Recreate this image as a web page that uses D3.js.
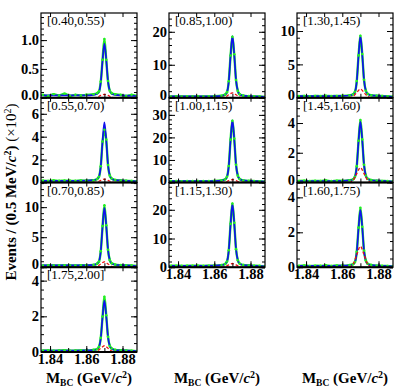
<!DOCTYPE html>
<html>
<head>
<meta charset="utf-8">
<script src="https://cdn.jsdelivr.net/npm/d3@7"></script>
<style>
  body { margin: 0; background: #fff; }
  svg text { font-family: "Liberation Serif", "DejaVu Serif", serif; }
</style>
</head>
<body>
<div id="d3-container"></div>
<script>
/* CONSTANTS AND GLOBALS */
const width = 399, height = 387;
const colLeft = [41, 169, 297], panelW = 96;
const top0 = 13, panelH = 84.75;

/* DATA */
// momentum bins, in the order the panels are filled (down column 1, then 2, then 3)
const binLabels = ["[0.40,0.55)", "[0.55,0.70)", "[0.70,0.85)", "[1.75,2.00]",
  "[0.85,1.00)", "[1.00,1.15)", "[1.15,1.30)",
  "[1.30,1.45)", "[1.45,1.60)", "[1.60,1.75)"];
const panelCol = [0, 0, 0, 0, 1, 1, 1, 2, 2, 2];
const panelRow = [0, 1, 2, 3, 0, 1, 2, 0, 1, 2];
const yMax   = [1.47, 7.4, 14.1, 4.75, 25.7, 37.6, 29.5, 12.7, 5.7, 4.85];
const yMajor = [0.5, 2, 5, 2, 10, 10, 10, 5, 2, 2];
const yMinor = [0.1, 0.5, 1, 0.5, 2, 2, 2, 1, 0.5, 0.5];
const xTicks = [1.84, 1.86, 1.88];
const xMinorTicks = [1.84, 1.85, 1.86, 1.87, 1.88];

// total fit (blue), units of 10^2 events
const fitX = [1.835, 1.850, 1.860, 1.864, 1.866, 1.867, 1.868, 1.869, 1.870,
  1.871, 1.872, 1.873, 1.874, 1.876, 1.880, 1.888];
const totalFit = [
  [0.04, 0.04, 0.04, 0.05, 0.07, 0.10, 0.27, 0.65, 0.94, 0.67, 0.28, 0.12, 0.07, 0.05, 0.04, 0.03],
  [0.15, 0.15, 0.16, 0.20, 0.30, 0.51, 1.43, 3.62, 5.25, 3.72, 1.53, 0.61, 0.33, 0.21, 0.17, 0.10],
  [0.30, 0.30, 0.32, 0.40, 0.59, 0.97, 2.70, 6.83, 9.90, 7.02, 2.89, 1.16, 0.64, 0.42, 0.34, 0.20],
  [0.08, 0.08, 0.09, 0.11, 0.16, 0.28, 0.78, 1.98, 2.88, 2.04, 0.84, 0.33, 0.18, 0.11, 0.09, 0.05],
  [0.40, 0.40, 0.44, 0.58, 0.95, 1.68, 4.98, 12.84, 18.7, 13.21, 5.34, 2.05, 1.04, 0.62, 0.47, 0.25],
  [0.60, 0.60, 0.65, 0.87, 1.41, 2.49, 7.35, 18.96, 27.6, 19.5, 7.89, 3.03, 1.55, 0.92, 0.71, 0.40],
  [0.50, 0.50, 0.54, 0.72, 1.15, 2.01, 5.88, 15.12, 22.0, 15.55, 6.31, 2.44, 1.25, 0.76, 0.59, 0.30],
  [0.25, 0.25, 0.27, 0.34, 0.52, 0.88, 2.50, 6.37, 9.25, 6.55, 2.68, 1.06, 0.57, 0.36, 0.29, 0.15],
  [0.10, 0.10, 0.11, 0.14, 0.22, 0.38, 1.10, 2.82, 4.10, 2.90, 1.18, 0.46, 0.24, 0.15, 0.12, 0.06],
  [0.08, 0.08, 0.09, 0.11, 0.18, 0.30, 0.88, 2.26, 3.28, 2.32, 0.94, 0.37, 0.19, 0.12, 0.09, 0.05]
];

// data points (green)
const dataX = [1.836, 1.839, 1.842, 1.845, 1.848, 1.851, 1.854, 1.857, 1.860, 1.864, 1.866,
  1.867, 1.868, 1.869, 1.870, 1.871, 1.872, 1.873, 1.874, 1.876, 1.879, 1.882, 1.885, 1.888];
const dataY = [
  [0.05, 0.03, 0.06, 0.04, 0.07, 0.03, 0.05, 0.04, 0.05, 0.06, 0.08, 0.11, 0.28, 0.66, 1.02, 0.66, 0.29, 0.12, 0.08, 0.06, 0.05, 0.03, 0.05, 0.03],
  [0.16, 0.13, 0.17, 0.14, 0.16, 0.15, 0.14, 0.17, 0.16, 0.20, 0.31, 0.50, 1.42, 3.58, 4.60, 3.75, 1.52, 0.60, 0.35, 0.22, 0.18, 0.15, 0.13, 0.10],
  [0.30, 0.32, 0.28, 0.31, 0.33, 0.29, 0.30, 0.34, 0.32, 0.40, 0.60, 0.95, 2.68, 6.85, 10.3, 7.00, 2.90, 1.18, 0.66, 0.44, 0.35, 0.31, 0.28, 0.20],
  [0.08, 0.09, 0.07, 0.08, 0.10, 0.07, 0.08, 0.09, 0.08, 0.12, 0.16, 0.29, 0.79, 1.99, 3.10, 2.06, 0.85, 0.34, 0.20, 0.12, 0.10, 0.08, 0.07, 0.05],
  [0.40, 0.42, 0.38, 0.41, 0.40, 0.43, 0.39, 0.42, 0.44, 0.60, 0.95, 1.70, 5.00, 12.8, 18.5, 13.2, 5.35, 2.08, 1.05, 0.63, 0.48, 0.42, 0.38, 0.25],
  [0.60, 0.62, 0.58, 0.61, 0.60, 0.63, 0.59, 0.62, 0.66, 0.90, 1.40, 2.50, 7.33, 19.0, 27.4, 19.5, 7.90, 3.05, 1.58, 0.94, 0.70, 0.62, 0.57, 0.40],
  [0.50, 0.52, 0.48, 0.51, 0.50, 0.53, 0.49, 0.52, 0.55, 0.74, 1.15, 2.00, 5.90, 15.1, 22.2, 15.5, 6.30, 2.45, 1.27, 0.78, 0.60, 0.52, 0.47, 0.30],
  [0.25, 0.27, 0.23, 0.26, 0.25, 0.28, 0.24, 0.27, 0.28, 0.35, 0.52, 0.89, 2.50, 6.35, 9.30, 6.56, 2.69, 1.06, 0.58, 0.37, 0.30, 0.26, 0.23, 0.15],
  [0.10, 0.12, 0.09, 0.11, 0.10, 0.13, 0.09, 0.12, 0.11, 0.15, 0.22, 0.39, 1.10, 2.81, 4.20, 2.90, 1.19, 0.47, 0.25, 0.16, 0.12, 0.10, 0.09, 0.06],
  [0.08, 0.10, 0.07, 0.09, 0.08, 0.11, 0.07, 0.10, 0.09, 0.12, 0.18, 0.30, 0.89, 2.27, 3.40, 2.32, 0.95, 0.38, 0.20, 0.13, 0.09, 0.08, 0.07, 0.05]
];

// peaking background (red dashed)
const peakX = [1.864, 1.866, 1.868, 1.870, 1.872, 1.874, 1.876];
const peakingBkg = [
  [0, 0.01, 0.04, 0.06, 0.04, 0.01, 0],
  [0, 0.05, 0.18, 0.30, 0.18, 0.05, 0],
  [0, 0.14, 0.54, 0.90, 0.54, 0.14, 0],
  [0, 0.05, 0.21, 0.35, 0.21, 0.05, 0],
  [0, 0.23, 0.90, 1.50, 0.90, 0.23, 0],
  [0, 0.20, 0.80, 1.30, 0.80, 0.20, 0],
  [0, 0.20, 0.80, 1.30, 0.80, 0.20, 0],
  [0, 0.20, 0.78, 1.30, 0.78, 0.20, 0],
  [0, 0.15, 0.60, 1.00, 0.60, 0.15, 0],
  [0, 0.18, 0.72, 1.20, 0.72, 0.18, 0]
];

let svg;

function init() {
  svg = d3.select("#d3-container")
    .append("svg")
    .attr("width", width)
    .attr("height", height);

  const xScale = d3.scaleLinear().domain([1.835, 1.888]).range([0, panelW]);

  binLabels.forEach((label, i) => {
    const col = panelCol[i], row = panelRow[i];
    const isBottom = (col === 0 && row === 3) || (col > 0 && row === 2);
    const g = svg.append("g")
      .attr("transform", `translate(${colLeft[col]},${top0 + row * panelH})`);

    const yScale = d3.scaleLinear().domain([0, yMax[i]]).range([panelH, 0]);
    const major = d3.range(0, yMax[i] + 1e-9, yMajor[i]);
    const minor = d3.range(0, yMax[i] + 1e-9, yMinor[i]);

    g.append("clipPath").attr("id", "clip" + i)
      .append("rect").attr("width", panelW).attr("height", panelH);

    const plot = g.append("g").attr("clip-path", `url(#clip${i})`);

    const line = d3.line()
      .x(d => xScale(d[0]))
      .y(d => yScale(d[1]))
      .curve(d3.curveMonotoneX);

    // data
    plot.append("path")
      .attr("d", line(dataX.map((x, j) => [x, dataY[i][j]])))
      .attr("fill", "none")
      .attr("stroke", "#22ee22")
      .attr("stroke-width", 2.4);

    // total fit
    plot.append("path")
      .attr("d", line(fitX.map((x, j) => [x, totalFit[i][j]])))
      .attr("fill", "none")
      .attr("stroke", "#1010ee")
      .attr("stroke-width", 1.7);

    plot.selectAll(".pt")
      .data(dataX.map((x, j) => [x, dataY[i][j]]))
      .join("circle")
      .attr("cx", d => xScale(d[0]))
      .attr("cy", d => yScale(d[1]))
      .attr("r", 1.3)
      .attr("fill", "#22ee22");

    // peaking background
    plot.append("path")
      .attr("d", line(peakX.map((x, j) => [x, peakingBkg[i][j]])))
      .attr("fill", "none")
      .attr("stroke", "#ee1111")
      .attr("stroke-width", 1.3)
      .attr("stroke-dasharray", "3,2");

    // axes, ticks pointing inside
    const tickFont = sel => sel.selectAll("text")
      .style("font-family", '"Liberation Serif", serif')
      .style("font-size", "14.5px")
      .style("font-weight", "bold")
      .attr("fill", "#000");

    g.append("g")
      .call(d3.axisLeft(yScale).tickValues(minor).tickSize(-3).tickFormat(""))
      .call(a => a.select(".domain").remove());
    const yAxisG = g.append("g")
      .call(d3.axisLeft(yScale).tickValues(major).tickSize(-6).tickPadding(2)
        .tickFormat(i === 0 ? d3.format(".1f") : d3.format("d")))
      .call(a => a.select(".domain").remove())
      .call(tickFont);
    // lift the zero label a little where another panel sits below
    if (!isBottom) {
      yAxisG.selectAll(".tick text")
        .filter(d => d === 0)
        .attr("y", -3);
    }
    g.append("g").attr("transform", `translate(${panelW},0)`)
      .call(d3.axisRight(yScale).tickValues(minor).tickSize(-3).tickFormat(""))
      .call(a => a.select(".domain").remove());
    g.append("g").attr("transform", `translate(${panelW},0)`)
      .call(d3.axisRight(yScale).tickValues(major).tickSize(-6).tickFormat(""))
      .call(a => a.select(".domain").remove());
    g.append("g")
      .call(d3.axisTop(xScale).tickValues(xMinorTicks).tickSize(-4).tickFormat(""))
      .call(a => a.select(".domain").remove());
    g.append("g").attr("transform", `translate(0,${panelH})`)
      .call(d3.axisBottom(xScale).tickValues(xMinorTicks).tickSize(-4).tickFormat(""))
      .call(a => a.select(".domain").remove());
    if (isBottom) {
      g.append("g").attr("transform", `translate(0,${panelH})`)
        .call(d3.axisBottom(xScale).tickValues(xTicks).tickSize(-6).tickPadding(0)
          .tickFormat(d3.format(".2f")))
        .call(a => a.select(".domain").remove())
        .call(tickFont)
        .selectAll("text").attr("dy", "0.8em");
    }

    // frame
    g.append("rect")
      .attr("width", panelW).attr("height", panelH)
      .attr("fill", "none").attr("stroke", "#000").attr("stroke-width", 1.2);
    g.append("line")
      .attr("x1", 0).attr("x2", panelW)
      .attr("y1", panelH).attr("y2", panelH)
      .attr("stroke", "#000").attr("stroke-width", 2.2);

    g.append("text")
      .attr("x", 6).attr("y", 12)
      .style("font-size", "13px")
      .text(label);
  });

  // x axis titles
  const xTitleY = 383;
  colLeft.forEach(x0 => {
    const t = svg.append("text")
      .attr("x", x0 + panelW / 2)
      .attr("y", xTitleY)
      .attr("text-anchor", "middle")
      .style("font-size", "15px")
      .style("font-weight", "bold");
    t.append("tspan").text("M");
    t.append("tspan").attr("dy", 3).style("font-size", "9.5px").text("BC");
    t.append("tspan").attr("dy", -3).text(" (GeV/");
    t.append("tspan").style("font-style", "italic").text("c");
    t.append("tspan").attr("dy", -5).style("font-size", "10px").text("2");
    t.append("tspan").attr("dy", 5).text(")");
  });

  // y axis title
  const yt = svg.append("text")
    .attr("transform", "translate(16,192) rotate(-90)")
    .attr("text-anchor", "middle")
    .style("font-size", "15px")
    .style("font-weight", "bold");
  yt.append("tspan").text("Events / (0.5 MeV/");
  yt.append("tspan").style("font-style", "italic").text("c");
  yt.append("tspan").attr("dy", -5).style("font-size", "10px").text("2");
  yt.append("tspan").attr("dy", 5).text(")  ");
  yt.append("tspan").style("font-weight", "normal").text("(\u00d710");
  yt.append("tspan").attr("dy", -5).style("font-size", "10px").style("font-weight", "normal").text("2");
  yt.append("tspan").attr("dy", 5).style("font-weight", "normal").text(")");
}

init();
</script>
</body>
</html>
